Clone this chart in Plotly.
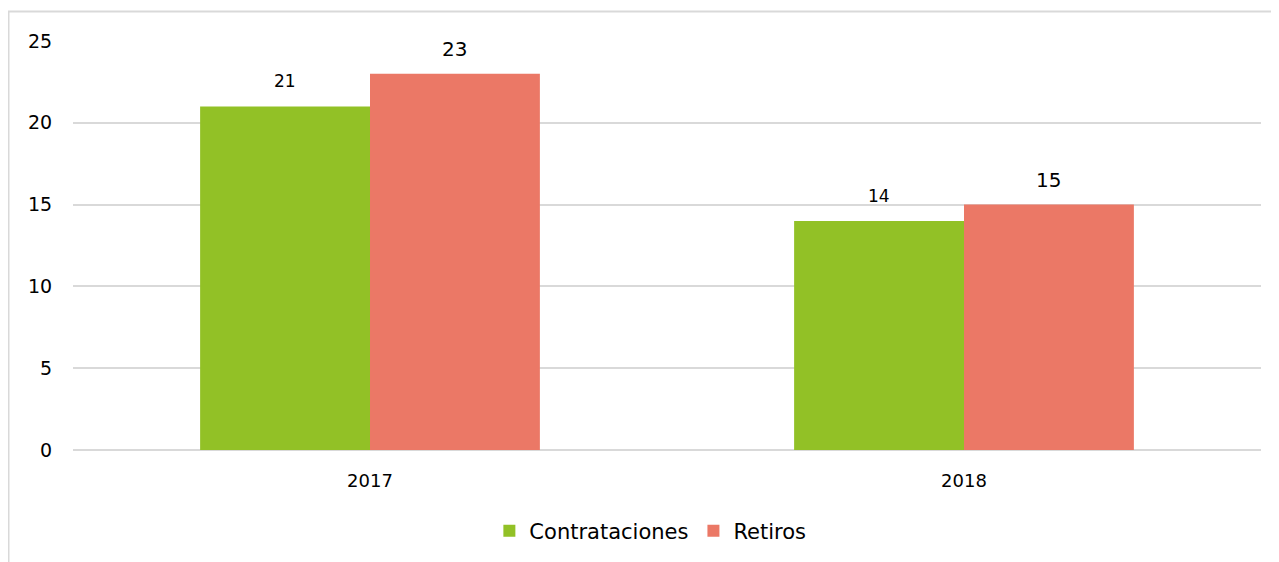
import plotly.graph_objects as go

years = ["2017", "2018"]
contrataciones = [21, 14]
retiros = [23, 15]
tick_vals = [0, 5, 10, 15, 20, 25]

# page body has an 8px margin; size the figure so it fits in 1279x562
W, H = 1271, 554
L, R, T, B = 65, 18, 33, 112
pw, ph = W - L - R, H - T - B

fig = go.Figure()
fig.add_trace(go.Bar(x=years, y=contrataciones, name="Contrataciones",
                     marker=dict(color="#92C126", line=dict(width=0))))
fig.add_trace(go.Bar(x=years, y=retiros, name="Retiros",
                     marker=dict(color="#EB7866", line=dict(width=0))))

# data labels above bars
bar_px = pw / len(years) * (1 - 0.428) / 2
for vals, dx, size in [(contrataciones, -bar_px / 2, 17), (retiros, bar_px / 2, 20)]:
    for i, v in enumerate(vals):
        fig.add_annotation(x=i, y=v, xref="x", yref="y", text=str(v), showarrow=False,
                           xshift=dx, yshift=25, yanchor="middle",
                           font=dict(size=size, color="#000000"))

fig.update_layout(
    width=W, height=H,
    margin=dict(l=L, r=R, t=T, b=B, autoexpand=False),
    paper_bgcolor="white", plot_bgcolor="white",
    font=dict(family="DejaVu Sans", size=18, color="#000000"),
    barmode="group", bargap=0.428, bargroupgap=0,
    showlegend=True,
    legend=dict(orientation="h", x=0.486, xanchor="center", y=(442 - 523) / ph,
                yanchor="middle", font=dict(size=21), itemwidth=30, traceorder="normal"),
    xaxis=dict(type="category", range=[-0.5, len(years) - 0.5], autorange=False,
               showgrid=False, showline=False, zeroline=False,
               ticks="outside", ticklen=14, tickcolor="rgba(0,0,0,0)",
               tickfont=dict(size=18)),
    yaxis=dict(range=[0, 25], autorange=False, tickvals=tick_vals, showgrid=True,
               gridcolor="#D9D9D9", gridwidth=1.5, zeroline=True, zerolinecolor="#D9D9D9",
               zerolinewidth=1.5, showline=False, ticks="outside", ticklen=16,
               tickcolor="rgba(0,0,0,0)", tickfont=dict(size=19)),
)

# outer chart border (cropped on right/bottom)
x0 = (0.5 - L) / pw
y1 = (H - B - 3.5) / ph
fig.add_shape(type="rect", xref="paper", yref="paper", x0=x0, x1=1.5, y0=-0.5, y1=y1,
              line=dict(color="#D9D9D9", width=2), fillcolor="rgba(0,0,0,0)", layer="below")

fig.write_html("out.html")
